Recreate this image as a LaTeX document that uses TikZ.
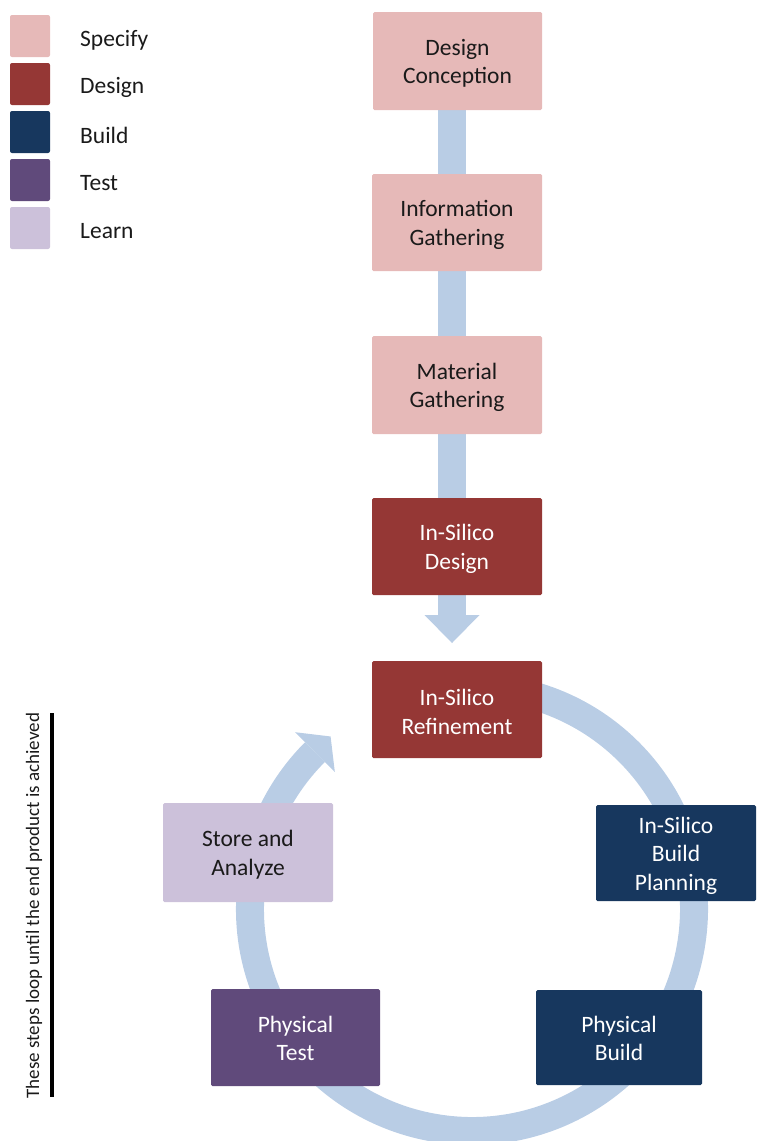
\documentclass[tikz,border=0pt]{standalone}
\usepackage{fontspec}
\setmainfont{Carlito}
\usetikzlibrary{calc}
\definecolor{cSpec}{HTML}{E6B9B8}
\definecolor{cDes}{HTML}{953735}
\definecolor{cBld}{HTML}{17375E}
\definecolor{cTst}{HTML}{604A7B}
\definecolor{cLrn}{HTML}{CCC1DA}
\definecolor{cFlow}{HTML}{B9CDE5}
\definecolor{cTxt}{HTML}{1A1A1A}
\tikzset{
  box/.style={rectangle, rounded corners=1.5pt, inner sep=0pt},
  btxt/.style={inner sep=0pt, align=center, font=\fontsize{23.5}{28.5}\selectfont},
  dark/.style={btxt, text=cTxt},
  light/.style={btxt, text=white},
  spec/.style={box, fill=cSpec},
  des/.style={box, fill=cDes},
  bld/.style={box, fill=cBld},
  tst/.style={box, fill=cTst},
  lrn/.style={box, fill=cLrn},
  legsq/.style={rectangle, rounded corners=2pt, minimum width=40pt, minimum height=42pt, inner sep=0pt},
  leglab/.style={anchor=west, inner sep=0pt, text=cTxt, font=\fontsize{23.5}{28}\selectfont},
  flow/.style={draw=cFlow, line width=28pt},
  flowhead/.style={fill=cFlow},
}
\begin{document}
\begin{tikzpicture}[x=1pt,y=1pt]
\useasboundingbox (0,0) rectangle (756,-1141);
% legend
\node[legsq, fill=cSpec] (l1) at (30,-36) {};
\node[legsq, fill=cDes] (l2) at (30,-84) {};
\node[legsq, fill=cBld] (l3) at (30,-132) {};
\node[legsq, fill=cTst] (l4) at (30,-180) {};
\node[legsq, fill=cLrn] (l5) at (30,-228) {};
\node[leglab] (t1) at (80,-40) {Specify};
\node[leglab] (t2) at (80,-87) {Design};
\node[leglab] (t3) at (80,-135) {Build};
\node[leglab] (t4) at (80,-183) {Test};
\node[leglab] (t5) at (80,-231) {Learn};
% vertical flow arrow
\coordinate (hb) at (452,-615);
\coordinate (htip) at (452,-643);
\coordinate (dctop) at (452,-61);
\draw[flow] (dctop) -- (hb);
\fill[flowhead] ($(hb)+(-27.5,0)$) -- ($(hb)+(27.5,0)$) -- (htip) -- cycle;
% cycle arrow
\coordinate (C) at (472,-909);
\draw[flow] ($(C)+(80:222)$) arc[start angle=80, end angle=-225, radius=222];
\fill[flowhead] ($(C)+(135:250)$) -- ($(C)+(135:222)+(45:22)$) -- ($(C)+(135:194)$) -- cycle;
% boxes
\node[spec, minimum width=169pt, minimum height=98pt] (dc) at (457.5,-61) {};
\node[spec, minimum width=170pt, minimum height=97pt] (ig) at (457,-222.5) {};
\node[spec, minimum width=170pt, minimum height=98pt] (mg) at (457,-385) {};
\node[des, minimum width=170pt, minimum height=97pt] (isd) at (457,-546.5) {};
\node[des, minimum width=170pt, minimum height=97pt] (isr) at (457,-709.5) {};
\node[bld, minimum width=160pt, minimum height=96pt] (bp) at (676,-853) {};
\node[bld, minimum width=166pt, minimum height=95pt] (pb) at (619,-1037.5) {};
\node[tst, minimum width=169pt, minimum height=97pt] (pt) at (295.5,-1037.5) {};
\node[lrn, minimum width=170pt, minimum height=99pt] (sa) at (248,-852.5) {};
% box texts
\node[dark] (dcT) at ($(dc)+(0,-2.5)$) {Design\\Conception};
\node[dark] (igT) at ($(ig)+(0,-2.5)$) {Information\\Gathering};
\node[dark] (mgT) at ($(mg)+(0,-2.5)$) {Material\\Gathering};
\node[light] (isdT) at ($(isd)+(0,-2.5)$) {In-Silico\\Design};
\node[light] (isrT) at ($(isr)+(0,-2.5)$) {In-Silico\\Refinement};
\node[light] (bpT) at ($(bp)+(0,-2.5)$) {In-Silico\\Build\\Planning};
\node[light] (pbT) at ($(pb)+(0,-1)$) {Physical\\Build};
\node[light] (ptT) at ($(pt)+(0,-1)$) {Physical\\Test};
\node[dark] (saT) at ($(sa)+(0,-2)$) {Store and\\Analyze};
% loop note
\node[rotate=90, inner sep=0pt, text=cTxt, font=\fontsize{19}{22}\selectfont] (note) at (34,-905.5) {These steps loop until the end product is achieved};
\coordinate (bt) at (52,-713);
\coordinate (bb) at (52,-1097);
\draw[line width=3.5pt] (bt) -- (bb);
\end{tikzpicture}
\end{document}
